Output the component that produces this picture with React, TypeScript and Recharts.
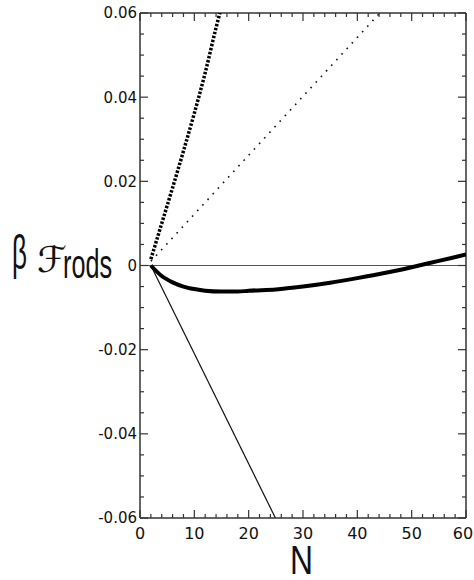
import React from 'react'
import { Line, LineChart, ReferenceLine, XAxis, YAxis } from 'recharts'

// tick values (minor + major)
const X_TICKS = [0, 2, 4, 6, 8, 10, 12, 14, 16, 18, 20, 22, 24, 26, 28, 30, 32, 34, 36, 38, 40, 42, 44, 46, 48, 50, 52, 54, 56, 58, 60]
const Y_TICKS = [
  -0.06, -0.055, -0.05, -0.045, -0.04, -0.035, -0.03, -0.025, -0.02, -0.015, -0.01, -0.005, 0,
  0.005, 0.01, 0.015, 0.02, 0.025, 0.03, 0.035, 0.04, 0.045, 0.05, 0.055, 0.06,
]

// thick dotted curve
const thickDotN = [2, 4, 6, 8, 10, 12, 14, 15.5]
const thickDotF = [0.0015, 0.01, 0.0185, 0.0272, 0.0362, 0.0458, 0.0565, 0.064]

// thin dotted curve
const thinDotN = [2, 10, 20, 30, 40, 45]
const thinDotF = [0.001, 0.0122, 0.0262, 0.0402, 0.0542, 0.0612]

// thick solid curve
const thickN = [2, 4, 6, 8, 10, 12, 15, 18, 20, 25, 30, 35, 40, 45, 50, 55, 60]
const thickF = [0, -0.0025, -0.004, -0.005, -0.0056, -0.006, -0.0062, -0.0062, -0.006, -0.0057, -0.005, -0.0041, -0.003, -0.0018, -0.0004, 0.0011, 0.0026]

// thin solid line
const thinN = [2, 25.5]
const thinF = [0, -0.0615]

const toData = (ns: number[], fs: number[]) => ns.map((n, i) => ({ n, f: fs[i] }))

const FONT = '"Liberation Sans", Arial, Helvetica, sans-serif'
const TICK_FONT = '"DejaVu Sans", sans-serif'
const PLOT = { left: 140, right: 466, top: 13, bottom: 518 }
const FRAME = '#333'

const XTick = (props: any) => {
  const { x, payload } = props
  const v = payload.value
  const major = v % 10 === 0
  const len = major ? 8 : 4
  return (
    <g>
      <line x1={x} x2={x} y1={PLOT.bottom} y2={PLOT.bottom - len} stroke={FRAME} strokeWidth={1.2} />
      <line x1={x} x2={x} y1={PLOT.top} y2={PLOT.top + len} stroke={FRAME} strokeWidth={1.2} />
      {major && (
        <text x={Math.min(x, 463)} y={538.5} textAnchor="middle" fontSize={16} fontFamily={TICK_FONT} fill="#111">
          {v}
        </text>
      )}
    </g>
  )
}

const YTick = (props: any) => {
  const { y, payload } = props
  const v = payload.value
  const q = v / 0.02
  const major = Math.abs(q - Math.round(q)) < 1e-6
  const len = major ? 8 : 4
  return (
    <g>
      <line x1={PLOT.left} x2={PLOT.left + len} y1={y} y2={y} stroke={FRAME} strokeWidth={1.2} />
      <line x1={PLOT.right} x2={PLOT.right - len} y1={y} y2={y} stroke={FRAME} strokeWidth={1.2} />
      {major && (
        <text x={137} y={y} dy="0.36em" textAnchor="end" fontSize={15} fontFamily={TICK_FONT} fill="#111">
          {Math.abs(v) < 1e-9 ? '0' : v.toFixed(2)}
        </text>
      )}
    </g>
  )
}

const YTitle = () => (
  <g fill="#111">
    <text x={12} y={269} fontSize={48} fontFamily={FONT} textLength={15} lengthAdjust="spacingAndGlyphs">
      β
    </text>
    <text x={37} y={272} fontSize={36} fontFamily='"DejaVu Sans", serif' textLength={30} lengthAdjust="spacingAndGlyphs">
      ℱ
    </text>
    <text x={63} y={278} fontSize={40} fontFamily={FONT} textLength={49} lengthAdjust="spacingAndGlyphs">
      rods
    </text>
  </g>
)

const XTitle = () => (
  <text x={290} y={574} fontSize={41} fontFamily={FONT} fill="#111" textLength={23} lengthAdjust="spacingAndGlyphs">
    N
  </text>
)

export default function App() {
  return (
    <div style={{ position: 'absolute', left: 0, top: 0, width: 474, height: 580, background: '#fff' }}>
      <LineChart width={474} height={580} margin={{ top: 13, right: 8, bottom: 0, left: 0 }}>
        <XAxis
          type="number"
          dataKey="n"
          domain={[0, 60]}
          ticks={X_TICKS}
          interval={0}
          allowDataOverflow
          height={62}
          tickLine={false}
          tick={<XTick />}
          axisLine={{ stroke: FRAME, strokeWidth: 1.5 }}
          label={<XTitle />}
        />
        <YAxis
          type="number"
          dataKey="f"
          domain={[-0.06, 0.06]}
          ticks={Y_TICKS}
          interval={0}
          allowDataOverflow
          width={140}
          tickLine={false}
          tick={<YTick />}
          axisLine={{ stroke: FRAME, strokeWidth: 1.5 }}
          label={<YTitle />}
        />
        <ReferenceLine y={0.06} stroke={FRAME} strokeWidth={1.5} />
        <ReferenceLine x={60} stroke={FRAME} strokeWidth={1.5} />
        <ReferenceLine y={0} stroke="#555" strokeWidth={1} />
        <Line data={toData(thinN, thinF)} dataKey="f" type="linear" stroke="#111" strokeWidth={1.2} dot={false} isAnimationActive={false} />
        <Line data={toData(thickN, thickF)} dataKey="f" type="monotone" stroke="#000" strokeWidth={4} dot={false} isAnimationActive={false} />
        <Line data={toData(thinDotN, thinDotF)} dataKey="f" type="linear" stroke="#111" strokeWidth={1.6} strokeDasharray="1.6 6" dot={false} isAnimationActive={false} />
        <Line data={toData(thickDotN, thickDotF)} dataKey="f" type="monotone" stroke="#000" strokeWidth={3.5} strokeDasharray="2.5 1.6" dot={false} isAnimationActive={false} />
      </LineChart>
    </div>
  )
}
